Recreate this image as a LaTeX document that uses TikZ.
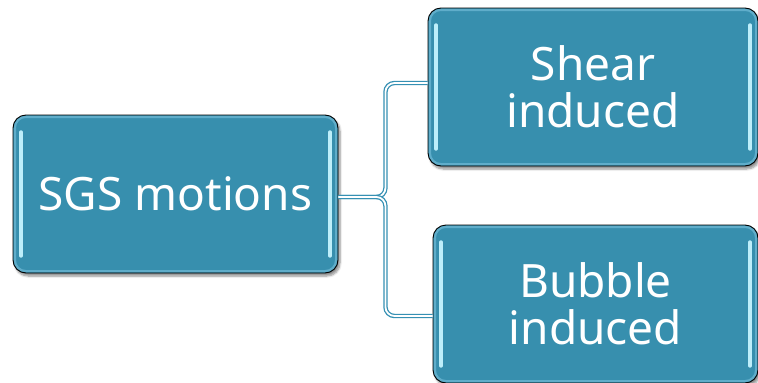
\documentclass[tikz,border=0pt]{standalone}
\usepackage{fontspec}
\setmainfont{Noto Sans}
\usepackage{tikz}
\usetikzlibrary{positioning,shadows.blur}

\definecolor{boxblue}{HTML}{378FAE}
\definecolor{rimblue}{HTML}{5FADCA}
\definecolor{glint}{HTML}{BDEEFA}
\definecolor{linkblue}{HTML}{3590B3}

\begin{document}
\begin{tikzpicture}[x=1pt, y=-1pt,
boxnode/.style={rectangle, rounded corners=13pt, draw=black, line width=0.9pt, fill=boxblue,
  text=white, align=center, minimum height=158pt, inner sep=0pt,
  font=\fontsize{46}{47}\selectfont,
  blur shadow={shadow xshift=2pt, shadow yshift=-3pt, shadow blur steps=6, shadow opacity=45},
  path picture={
    \draw[rimblue, line width=2.4pt, rounded corners=11pt]
      ([shift={(1.8pt,-1.8pt)}]path picture bounding box.north west) rectangle
      ([shift={(-1.8pt,1.8pt)}]path picture bounding box.south east);
    \draw[glint, line width=3.4pt, line cap=round]
      ([shift={(8pt,-17pt)}]path picture bounding box.north west) --
      ([shift={(8pt,17pt)}]path picture bounding box.south west);
    \draw[glint, line width=3.4pt, line cap=round]
      ([shift={(-8pt,-17pt)}]path picture bounding box.north east) --
      ([shift={(-8pt,17pt)}]path picture bounding box.south east);
  }},
link/.style={draw=linkblue, double=white, double distance=1.8pt, line width=1.3pt, rounded corners=9pt},
]
\useasboundingbox (0,0) rectangle (758,383);

%Nodes
\node[boxnode, minimum width=325pt] (sgs)    at (175.5,194) {SGS motions};
\node[boxnode, minimum width=330pt] (shear)  at (593,87)    {Shear\\induced};
\node[boxnode, minimum width=325pt] (bubble) at (595.5,304) {Bubble\\induced};

%Lines
\draw[link] ([yshift=-3pt]sgs.east) -- ++(47,0) |- ([yshift=4pt]shear.west);
\draw[link] ([yshift=-3pt]sgs.east) -- ++(47,0) |- ([yshift=-12pt]bubble.west);

\end{tikzpicture}
\end{document}
